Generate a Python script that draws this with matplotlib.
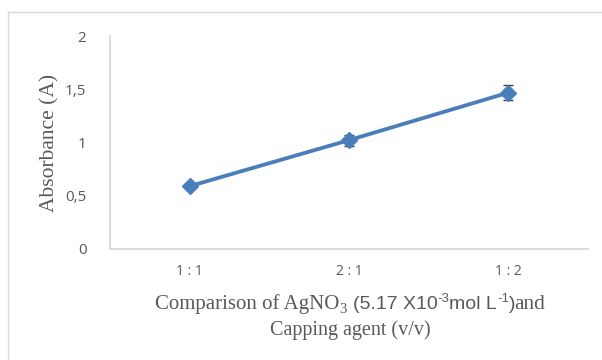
import matplotlib.pyplot as plt
from matplotlib.lines import Line2D

# data
ratios = ["1 : 1", "2 : 1", "1 : 2"]
absorbance = [0.59, 1.022, 1.468]
abs_err = [0.02, 0.053, 0.073]
yticks = [0, 0.5, 1, 1.5, 2]
ytick_labels = ["0", "0,5", "1", "1,5", "2"]

W, H = 602, 360
blue = "#4a7ebb"
grey_txt = "#595959"
grey_line = "#d9d9d9"

fig = plt.figure(figsize=(W / 100, H / 100), dpi=100)

# chart frame (top and left edges are visible)
fig.add_artist(Line2D([8 / W, 1], [1 - 12 / H, 1 - 12 / H], color=grey_line, lw=1,
                      transform=fig.transFigure))
fig.add_artist(Line2D([8 / W, 8 / W], [0, 1 - 12 / H], color=grey_line, lw=1,
                      transform=fig.transFigure))

ax = fig.add_axes([110 / W, (H - 249) / H, (588 - 110) / W, (249 - 36) / H])
x = list(range(len(ratios)))
ax.errorbar(x, absorbance, yerr=abs_err, color=blue, lw=2.75, marker="D", ms=8,
            ecolor="#404040", elinewidth=1, capsize=3.6, capthick=1, zorder=3)

ax.set_xlim(-0.5, 2.5)
ax.set_ylim(0, 2)
ax.set_yticks(yticks)
ax.set_yticklabels(ytick_labels, family="Open Sans", fontsize=11, color=grey_txt)
ax.set_xticks(x)
ax.set_xticklabels(ratios, family="Open Sans", fontsize=10, color=grey_txt)
ax.tick_params(axis="both", length=0)
ax.tick_params(axis="y", pad=17)
ax.tick_params(axis="x", pad=11)
for side in ["top", "right"]:
    ax.spines[side].set_visible(False)
for side in ["left", "bottom"]:
    ax.spines[side].set_color(grey_line)
    ax.spines[side].set_linewidth(1.3)

fig.text(50 / W, 1 - 142.5 / H, "Absorbance (A)", rotation=90, ha="center", va="center",
         family="Liberation Serif", fontsize=15.5, color=grey_txt)

# x label: first line mixes serif and sans pieces with sub/superscripts
serif, sans = "Liberation Serif", "Liberation Sans"
pieces = [
    ("Comparison of AgNO", serif, 15, 0),
    ("3", serif, 10.5, -4),
    (" ", serif, 15, 0),
    ("(5.17 X10", sans, 14, 0),
    ("-3", sans, 9.5, 7),
    ("mol L", sans, 14, 0),
    ("-1", sans, 9.5, 7),
    (")", sans, 14, 0),
    ("and", serif, 15.5, 0),
]
renderer = fig.canvas.get_renderer()
base_y = 309
texts = []
for s, fam, fs, dy in pieces:
    t = fig.text(0, 1 - (base_y - dy) / H, s, family=fam, fontsize=fs, color=grey_txt,
                 ha="left", va="baseline")
    texts.append(t)
widths = [t.get_window_extent(renderer).width for t in texts]
widths[2] = 6  # gap before the bracket
widths[7] -= 1.5  # ")and" sits tight in the original
cx = 350
xpos = cx - sum(widths) / 2
for t, w in zip(texts, widths):
    t.set_x(xpos / W)
    xpos += w
fig.text(cx / W, 1 - 335 / H, "Capping agent (v/v)", family=serif,
         fontsize=14.5, color=grey_txt, ha="center", va="baseline")

fig.savefig("out.png", dpi=100)
